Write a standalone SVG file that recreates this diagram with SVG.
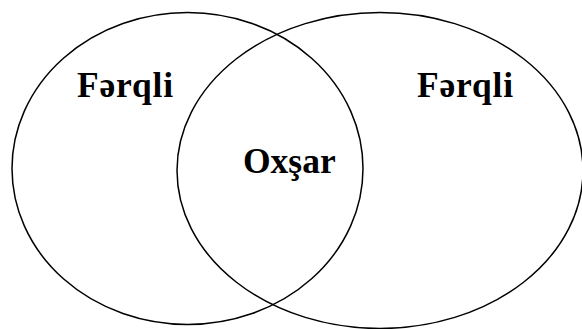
<svg xmlns="http://www.w3.org/2000/svg" width="582" height="329" viewBox="0 0 582 329">
<style>
.c{fill:none;stroke:#000;stroke-width:1.5}
.t{font-family:"Liberation Serif",serif;font-weight:bold;font-size:35.5px;fill:#000}
.f{letter-spacing:0.8px}
</style>
<rect width="582" height="329" fill="#fff"/>
<g id="left"><ellipse class="c" cx="187.5" cy="168.5" rx="175.5" ry="156"/><text class="t f" x="77" y="97">Fərqli</text></g>
<g id="right"><ellipse class="c" cx="380" cy="170.5" rx="203" ry="158"/><text class="t f" x="417" y="97">Fərqli</text></g>
<g id="center"><text class="t" x="243" y="173">Oxşar</text></g>
<g id="connectors"/>
</svg>
